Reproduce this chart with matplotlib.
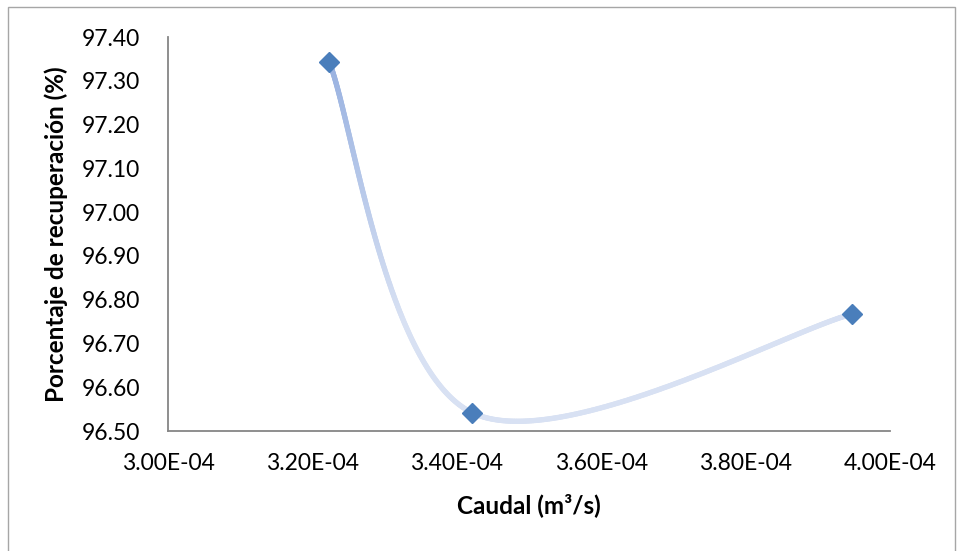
import numpy as np
import matplotlib
matplotlib.use("Agg")
import matplotlib.pyplot as plt
from matplotlib.collections import LineCollection
from matplotlib.patches import Rectangle
from matplotlib.colors import to_rgb
from matplotlib.ticker import FixedLocator, FuncFormatter

# ---- data ----
caudal = [3.223e-4, 3.421e-4, 3.947e-4]
recuperacion = [97.344, 96.542, 96.767]
x_ticks = [3.00e-4, 3.20e-4, 3.40e-4, 3.60e-4, 3.80e-4, 4.00e-4]
y_ticks = [96.50, 96.60, 96.70, 96.80, 96.90, 97.00, 97.10, 97.20, 97.30, 97.40]
x_label = "Caudal (m³/s)"
y_label = "Porcentaje de recuperación (%)"

plt.rcParams['font.family'] = ['Lato', 'DejaVu Sans']

W, H = 961, 551
fig = plt.figure(figsize=(W / 100, H / 100), dpi=100)
ax = fig.add_axes([168 / W, 1 - 431 / H, (890 - 168) / W, (431 - 37) / H])

ax.set_xlim(3.0e-4, 4.0e-4)
ax.set_ylim(96.50, 97.40)

# outer chart border
fig.patches.append(Rectangle((8 / W, -0.05), (955 - 8) / W, 1.05 - 7 / H,
                             transform=fig.transFigure, fill=False,
                             edgecolor='#a6a6a6', linewidth=1.0))

for s in ['top', 'right']:
    ax.spines[s].set_visible(False)
for s in ['left', 'bottom']:
    ax.spines[s].set_color('#868686')
    ax.spines[s].set_linewidth(1.3)

ax.xaxis.set_major_locator(FixedLocator(x_ticks))
ax.yaxis.set_major_locator(FixedLocator(y_ticks))
ax.xaxis.set_major_formatter(FuncFormatter(lambda v, p: "%.2E" % v))
ax.yaxis.set_major_formatter(FuncFormatter(lambda v, p: "%.2f" % v))
ax.tick_params(axis='both', length=0, labelsize=16.5, colors='#000000')
ax.tick_params(axis='x', pad=16)
ax.tick_params(axis='y', pad=20)

ax.set_xlabel(x_label, fontsize=17.5, fontweight='bold')
ax.set_ylabel(y_label, fontsize=17.5, fontweight='bold')
ax.xaxis.label.set_va('center')
ax.yaxis.label.set_va('center')
ax.xaxis.set_label_coords(0.5, (431 - 505) / 394)
ax.yaxis.set_label_coords((56 - 168) / 722, 0.5)

# ---- smooth curve (Excel-style bezier) computed in display space ----
fig.canvas.draw()
pts = ax.transData.transform(np.column_stack([caudal, recuperacion]))
n = len(pts)
curve = []
for i in range(n - 1):
    p0 = pts[i - 1] if i > 0 else pts[i]
    p1 = pts[i]
    p2 = pts[i + 1]
    p3 = pts[i + 2] if i + 2 < n else pts[i + 1]
    c1 = p1 + (p2 - p0) / 6.0
    c2 = p2 - (p3 - p1) / 6.0
    t = np.linspace(0, 1, 200)[:, None]
    seg = ((1 - t) ** 3) * p1 + 3 * ((1 - t) ** 2) * t * c1 + 3 * (1 - t) * t ** 2 * c2 + t ** 3 * p2
    if i > 0:
        seg = seg[1:]
    curve.append(seg)
curve = np.vstack(curve)
curve_data = ax.transData.inverted().transform(curve)

segs = np.stack([curve_data[:-1], curve_data[1:]], axis=1)
ymid = (curve_data[:-1, 1] + curve_data[1:, 1]) / 2
top_c = np.array(to_rgb('#98b1e0'))
bot_c = np.array(to_rgb('#d8e1f3'))
frac = np.clip((97.34 - ymid) / (97.34 - 96.75), 0, 1)[:, None]
cols = top_c * (1 - frac) + bot_c * frac
lc = LineCollection(segs, colors=cols, linewidths=3.8, capstyle='round', zorder=2)
ax.add_collection(lc)

ax.plot(caudal, recuperacion, linestyle='none', marker='D', markersize=10.2,
        color='#4a7ebb', markeredgecolor='#4a7ebb', zorder=3)

fig.savefig("out.png", dpi=100)
